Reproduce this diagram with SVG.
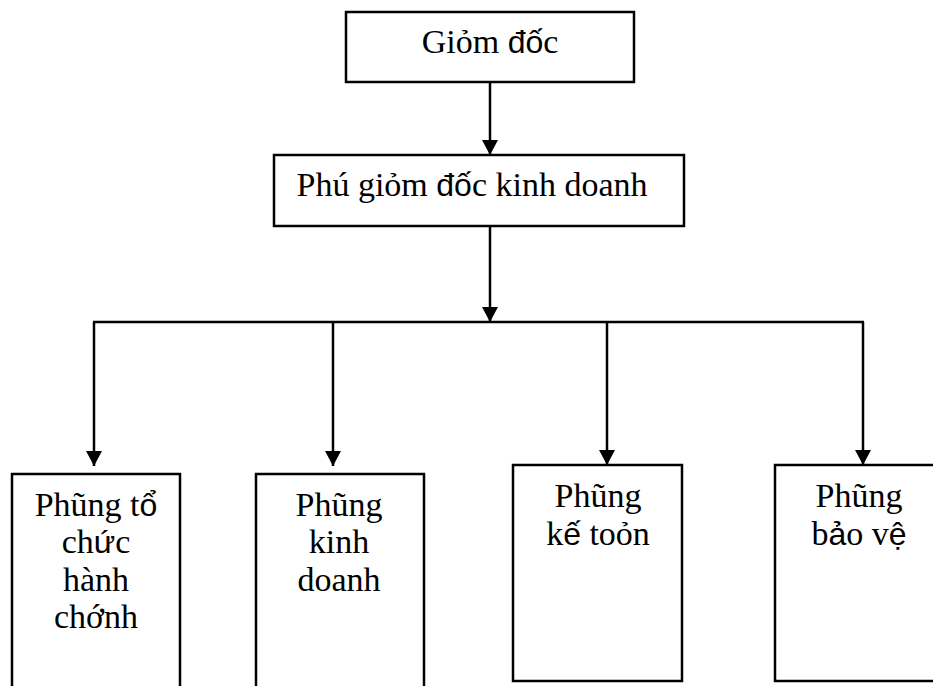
<svg xmlns="http://www.w3.org/2000/svg" width="933" height="686" viewBox="0 0 933 686">
  <style>
    .box { fill: #ffffff; stroke: #000000; stroke-width: 2.5; }
    .open { fill: none; stroke: #000000; stroke-width: 2.5; }
    .wire { fill: none; stroke: #000000; stroke-width: 2.5; }
    .label { font-family: "Liberation Serif", "Times New Roman", serif; font-size: 34px; fill: #000000; text-anchor: middle; }
    .sans { font-family: "Liberation Sans", Arial, sans-serif; font-size: 32px; }
  </style>
  <defs>
    <marker id="arrow" markerWidth="16" markerHeight="16" refX="15" refY="8" orient="auto" markerUnits="userSpaceOnUse">
      <path d="M0,0 L15,8 L0,16 Z" fill="#000000"/>
    </marker>
  </defs>
  <rect width="933" height="686" fill="#ffffff"/>

  <!-- connectors -->
  <g id="connectors">
    <line class="wire" x1="490" y1="82" x2="490" y2="155" marker-end="url(#arrow)"/>
    <line class="wire" x1="490" y1="226" x2="490" y2="322" marker-end="url(#arrow)"/>
    <line class="wire" x1="93" y1="322" x2="864" y2="322"/>
    <line class="wire" x1="94" y1="322" x2="94" y2="466" marker-end="url(#arrow)"/>
    <line class="wire" x1="333" y1="322" x2="333" y2="466" marker-end="url(#arrow)"/>
    <line class="wire" x1="607" y1="322" x2="607" y2="465" marker-end="url(#arrow)"/>
    <line class="wire" x1="863" y1="322" x2="863" y2="465" marker-end="url(#arrow)"/>
  </g>

  <!-- director -->
  <g id="giam-doc">
    <rect class="box" x="346" y="12" width="288" height="70"/>
    <text class="label" x="490" y="53">Giỏm <tspan class="sans">đố</tspan>c</text>
  </g>

  <!-- deputy director -->
  <g id="pho-giam-doc">
    <rect class="box" x="274" y="155" width="410" height="71"/>
    <text class="label" x="472" y="196">Phú giỏm <tspan class="sans">đố</tspan>c kinh doanh</text>
  </g>

  <!-- departments -->
  <g id="phong-to-chuc">
    <path class="open" d="M12,687 V474 H180 V687"/>
    <text class="label" x="96" y="516">Phũng t<tspan class="sans">ổ</tspan></text>
    <text class="label" x="96" y="553">ch<tspan class="sans">ứ</tspan>c</text>
    <text class="label" x="96" y="591">hành</text>
    <text class="label" x="96" y="628">chớnh</text>
  </g>

  <g id="phong-kinh-doanh">
    <path class="open" d="M256,687 V474 H424 V687"/>
    <text class="label" x="339" y="516">Phũng</text>
    <text class="label" x="339" y="553">kinh</text>
    <text class="label" x="339" y="591">doanh</text>
  </g>

  <g id="phong-ke-toan">
    <rect class="box" x="513" y="465" width="169" height="216"/>
    <text class="label" x="598" y="507">Phũng</text>
    <text class="label" x="598" y="545">k<tspan class="sans">ế</tspan> toỏn</text>
  </g>

  <g id="phong-bao-ve">
    <rect class="box" x="775" y="465" width="169" height="216"/>
    <text class="label" x="859" y="507">Phũng</text>
    <text class="label" x="859" y="545">b<tspan class="sans">ả</tspan>o v<tspan class="sans">ệ</tspan></text>
  </g>
</svg>
